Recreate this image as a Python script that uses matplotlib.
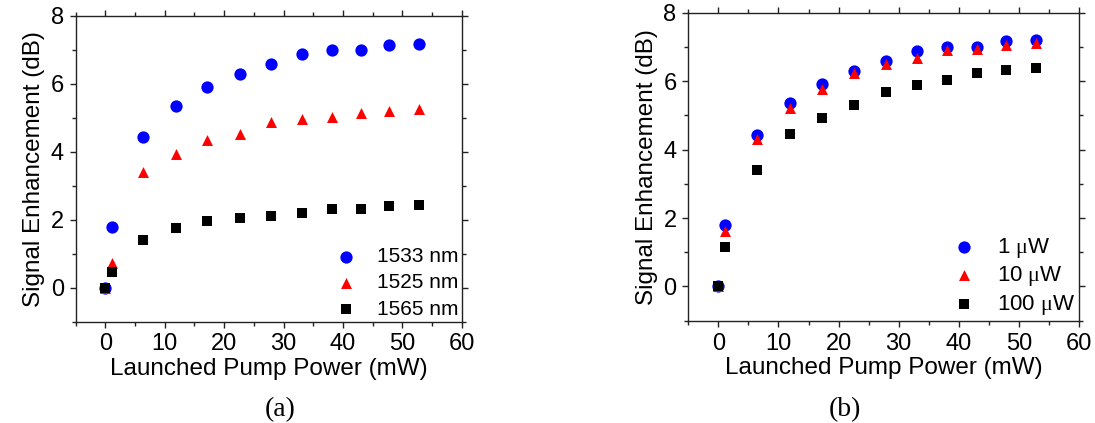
import matplotlib
matplotlib.use("Agg")
import matplotlib.pyplot as plt
from matplotlib.ticker import MultipleLocator

plt.rcParams['font.family'] = ['Liberation Sans', 'DejaVu Sans']
plt.rcParams['mathtext.fontset'] = 'custom'
plt.rcParams['mathtext.rm'] = 'Liberation Serif'
plt.rcParams['mathtext.it'] = 'Liberation Serif'

pump_power = [0, 1.1, 6.4, 11.9, 17.2, 22.6, 27.9, 33.1, 38.1, 43.1, 47.8, 52.8]

# Panel (a): different signal wavelengths
a_labels = ['1533 nm', '1525 nm', '1565 nm']
a_1533 = [0, 1.79, 4.42, 5.34, 5.90, 6.28, 6.58, 6.86, 6.99, 6.99, 7.15, 7.18]
a_1525 = [0, 0.72, 3.39, 3.94, 4.33, 4.52, 4.86, 4.95, 5.03, 5.15, 5.20, 5.26]
a_1565 = [0, 0.45, 1.41, 1.75, 1.97, 2.06, 2.12, 2.19, 2.30, 2.32, 2.41, 2.44]

# Panel (b): different signal powers
b_labels = ['1 $\\mu$W', '10 $\\mu$W', '100 $\\mu$W']
b_1uW = [0, 1.80, 4.44, 5.37, 5.92, 6.30, 6.60, 6.88, 7.00, 7.00, 7.16, 7.20]
b_10uW = [0, 1.61, 4.32, 5.23, 5.76, 6.23, 6.50, 6.69, 6.90, 6.93, 7.07, 7.13]
b_100uW = [0, 1.14, 3.41, 4.47, 4.91, 5.31, 5.68, 5.90, 6.02, 6.23, 6.33, 6.38]

colors = ['#0000ff', '#ff0000', '#000000']
markers = ['o', '^', 's']
sizes = [78, 62, 52]

fig = plt.figure(figsize=(10.95, 4.23), dpi=100)
ax1 = fig.add_axes([0.0691, 0.2395, 0.3525, 0.7234])
ax2 = fig.add_axes([0.6286, 0.2418, 0.3568, 0.7281])

def style(ax, series, labels, legpad, legspacing, legfont):
    for y, c, m, s, lab in zip(series, colors, markers, sizes, labels):
        ax.scatter(pump_power, y, color=c, marker=m, s=s, linewidths=0, label=lab, zorder=3)
    ax.set_xlim(-5, 60)
    ax.set_ylim(-1, 8)
    ax.xaxis.set_major_locator(MultipleLocator(10))
    ax.xaxis.set_minor_locator(MultipleLocator(5))
    ax.yaxis.set_major_locator(MultipleLocator(2))
    ax.yaxis.set_minor_locator(MultipleLocator(1))
    ax.tick_params(which='both', direction='out', top=True, right=True, labelsize=17, width=1, color='#222222')
    ax.tick_params(which='major', length=4.5, pad=4)
    ax.tick_params(which='minor', length=3)
    for sp in ax.spines.values():
        sp.set_linewidth(1.0)
        sp.set_color('#222222')
    ax.set_xlabel('Launched Pump Power (mW)', fontsize=17.5, labelpad=2)
    ax.set_ylabel('Signal Enhancement (dB)', fontsize=17.5, labelpad=4)
    ax.legend(loc='lower right', frameon=False, fontsize=legfont, handletextpad=0.9,
              labelspacing=legspacing, borderaxespad=legpad, borderpad=0.1,
              handlelength=1.2, scatterpoints=1)

style(ax1, [a_1533, a_1525, a_1565], a_labels, 0.05, 0.35, 15)
style(ax2, [b_1uW, b_10uW, b_100uW], b_labels, 0.08, 0.2, 16)

fig.text(280 / 1095, 1 - 410 / 423, '(a)', ha='center', va='center', fontsize=20, family='Liberation Serif')
fig.text(845 / 1095, 1 - 410 / 423, '(b)', ha='center', va='center', fontsize=20, family='Liberation Serif')

fig.savefig('out.png', dpi=100)
